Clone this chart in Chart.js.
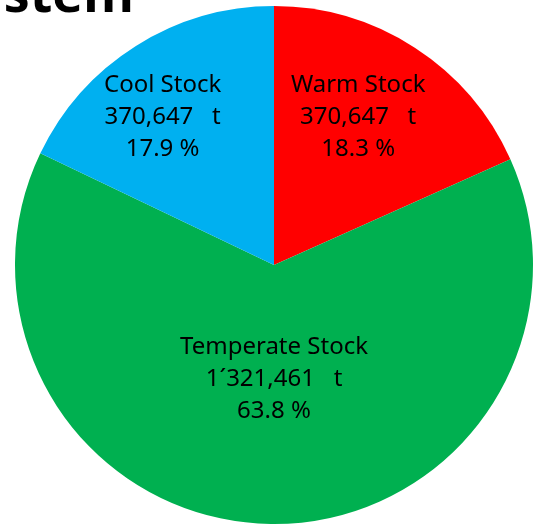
<!DOCTYPE html>
<html>
<head>
<meta charset="utf-8">
<script src="https://cdn.jsdelivr.net/npm/chart.js@4"></script>
<style>
  html, body { margin: 0; padding: 0; background: #fff; }
  #wrap { width: 539px; height: 527px; position: relative; }
</style>
</head>
<body>
<div id="wrap"><canvas id="pie"></canvas></div>
<script>
// values (clockwise from 12 o'clock)
var categories = ['Warm Stock', 'Temperate Stock', 'Cool Stock'];
var percents = [18.3, 63.8, 17.9];
var tonnes = ['370,647', '1\u00b4321,461', '370,647'];
var colors = ['#FF0000', '#00B050', '#00B0F0'];

// label anchors, as fraction of the radius from the centre
var labelOffsets = [[0.325, -0.572], [0.0, 0.44], [-0.43, -0.572]];

var sliceLabels = {
    id: 'sliceLabels',
    afterDatasetsDraw: function (chart) {
        var c = chart.ctx;
        var arcs = chart.getDatasetMeta(0).data;
        c.save();
        c.fillStyle = '#000';
        c.font = '24px "Noto Sans"';
        c.textAlign = 'center';
        c.textBaseline = 'middle';
        arcs.forEach(function (arc, i) {
            var x = arc.x + labelOffsets[i][0] * arc.outerRadius;
            var y = arc.y + labelOffsets[i][1] * arc.outerRadius;
            var lines = [categories[i], tonnes[i] + '   t', percents[i].toFixed(1) + ' %'];
            lines.forEach(function (txt, k) {
                c.fillText(txt, x, y + (k - 1) * 32);
            });
        });
        c.restore();
    }
};

// cut-off slide title behind the chart
var pageTitle = {
    id: 'pageTitle',
    afterDraw: function (chart) {
        var c = chart.ctx;
        c.save();
        c.fillStyle = '#000';
        c.font = 'bold 52px "Open Sans"';
        c.textAlign = 'right';
        c.textBaseline = 'alphabetic';
        c.fillText('System', 134, 12);
        c.restore();
    }
};

var ctx = document.getElementById('pie').getContext('2d');
var myChart = new Chart(ctx, {
    type: 'pie',
    data: {
        labels: categories,
        datasets: [{
            data: percents,
            backgroundColor: colors,
            borderWidth: 0
        }]
    },
    options: {
        responsive: true,
        maintainAspectRatio: false,
        animation: false,
        layout: {
            padding: { left: 15, right: 6, top: 6, bottom: 3 }
        },
        plugins: {
            legend: { display: false },
            tooltip: { enabled: false }
        }
    },
    plugins: [sliceLabels, pageTitle]
});
</script>
</body>
</html>
